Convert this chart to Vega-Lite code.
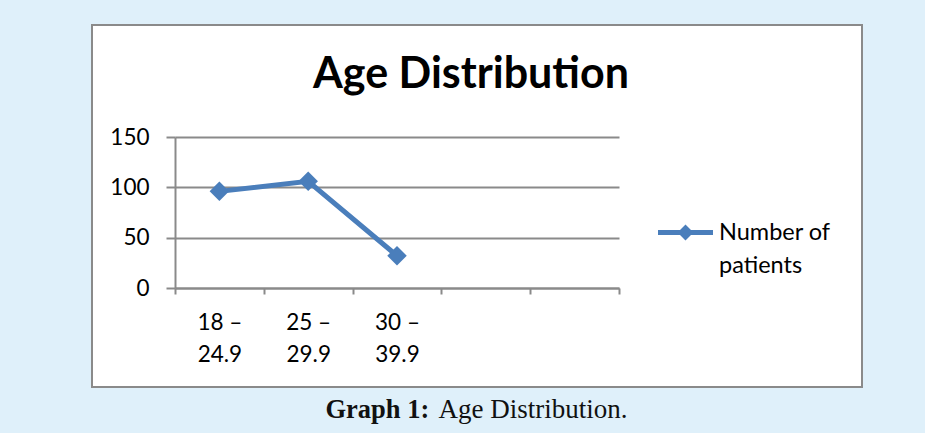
{
  "$schema": "https://vega.github.io/schema/vega-lite/v6.json",
  "width": 770,
  "height": 362,
  "autosize": {"type": "none"},
  "padding": {"left": 92, "top": 25, "right": 63, "bottom": 46},
  "background": "#dff0fa",
  "view": {"fill": "white", "stroke": "#8a8a8a", "strokeWidth": 2},
  "title": {
    "text": "Age Distribution",
    "font": "Lato",
    "fontSize": 43,
    "fontWeight": "bold",
    "color": "#000000",
    "anchor": "middle",
    "baseline": "alphabetic",
    "offset": -106,
    "dx": -6
  },
  "data": {
    "values": [
      {"age": "18 – 24.9", "series": "Number of patients", "patients": 96},
      {"age": "25 – 29.9", "series": "Number of patients", "patients": 106},
      {"age": "30 – 39.9", "series": "Number of patients", "patients": 32}
    ]
  },
  "encoding": {
    "x": {
      "field": "age",
      "type": "nominal",
      "sort": null,
      "scale": {
        "type": "band",
        "domain": ["18 – 24.9", "25 – 29.9", "30 – 39.9", " ", "  "],
        "range": [83, 527],
        "paddingInner": 0,
        "paddingOuter": 0
      },
      "axis": {
        "title": "Age Distribution.",
        "titleX": 346,
        "titleY": 129,
        "titleAlign": "left",
        "titleAnchor": null,
        "titleBaseline": "alphabetic",
        "titleFont": "Liberation Serif",
        "titleFontSize": 27,
        "titleFontWeight": "normal",
        "titleColor": "#111111",
        "offset": -99,
        "grid": false,
        "domainColor": "#8a8a8a",
        "domainWidth": 2,
        "tickColor": "#8a8a8a",
        "tickWidth": 2,
        "tickSize": 6,
        "tickBand": "extent",
        "labelAngle": 0,
        "labelFont": "Lato",
        "labelFontSize": 22.5,
        "labelColor": "#000000",
        "labelPadding": 17,
        "labelLineHeight": 32,
        "labelExpr": "[slice(datum.label, 0, 4), slice(datum.label, 5)]"
      }
    },
    "y": {
      "field": "patients",
      "type": "quantitative",
      "scale": {"domain": [0, 150], "range": [263, 112], "nice": false, "zero": true},
      "axis": {
        "title": "Graph 1:",
        "titleAngle": 0,
        "titleX": 150,
        "titleY": 392,
        "titleAlign": "left",
        "titleAnchor": null,
        "titleBaseline": "alphabetic",
        "titleFont": "Liberation Serif",
        "titleFontSize": 26.5,
        "titleFontWeight": "bold",
        "titleColor": "#111111",
        "offset": -83,
        "values": [0, 50, 100, 150],
        "grid": true,
        "gridColor": "#8a8a8a",
        "gridWidth": 2,
        "domainColor": "#8a8a8a",
        "domainWidth": 2,
        "tickColor": "#8a8a8a",
        "tickWidth": 2,
        "tickSize": 9,
        "labelFont": "Lato",
        "labelFontSize": 22.5,
        "labelColor": "#000000",
        "labelPadding": 17
      }
    },
    "color": {
      "field": "series",
      "type": "nominal",
      "scale": {"range": ["#4a7ebb"]},
      "legend": {
        "orient": "none",
        "legendX": 566,
        "legendY": 180,
        "title": null,
        "symbolType": "M-1,-0.09L1,-0.09L1,0.09L-1,0.09Z M-0.29,0L0,-0.29L0.29,0L0,0.29Z",
        "symbolSize": 3025,
        "symbolFillColor": "#4a7ebb",
        "symbolStrokeColor": "#4a7ebb",
        "symbolStrokeWidth": 0,
        "symbolOpacity": 1,
        "labelFont": "Lato",
        "labelFontSize": 23.5,
        "labelColor": "#000000",
        "labelOffset": 6,
        "labelLimit": 0,
        "labelExpr": "[slice(datum.label, 0, 9), slice(datum.label, 10)]",
        "encode": {"labels": {"update": {"lineHeight": {"value": 33}}}}
      }
    }
  },
  "layer": [
    {"mark": {"type": "line", "strokeWidth": 5}},
    {"mark": {"type": "point", "shape": "diamond", "filled": true, "size": 380, "opacity": 1}}
  ]
}
